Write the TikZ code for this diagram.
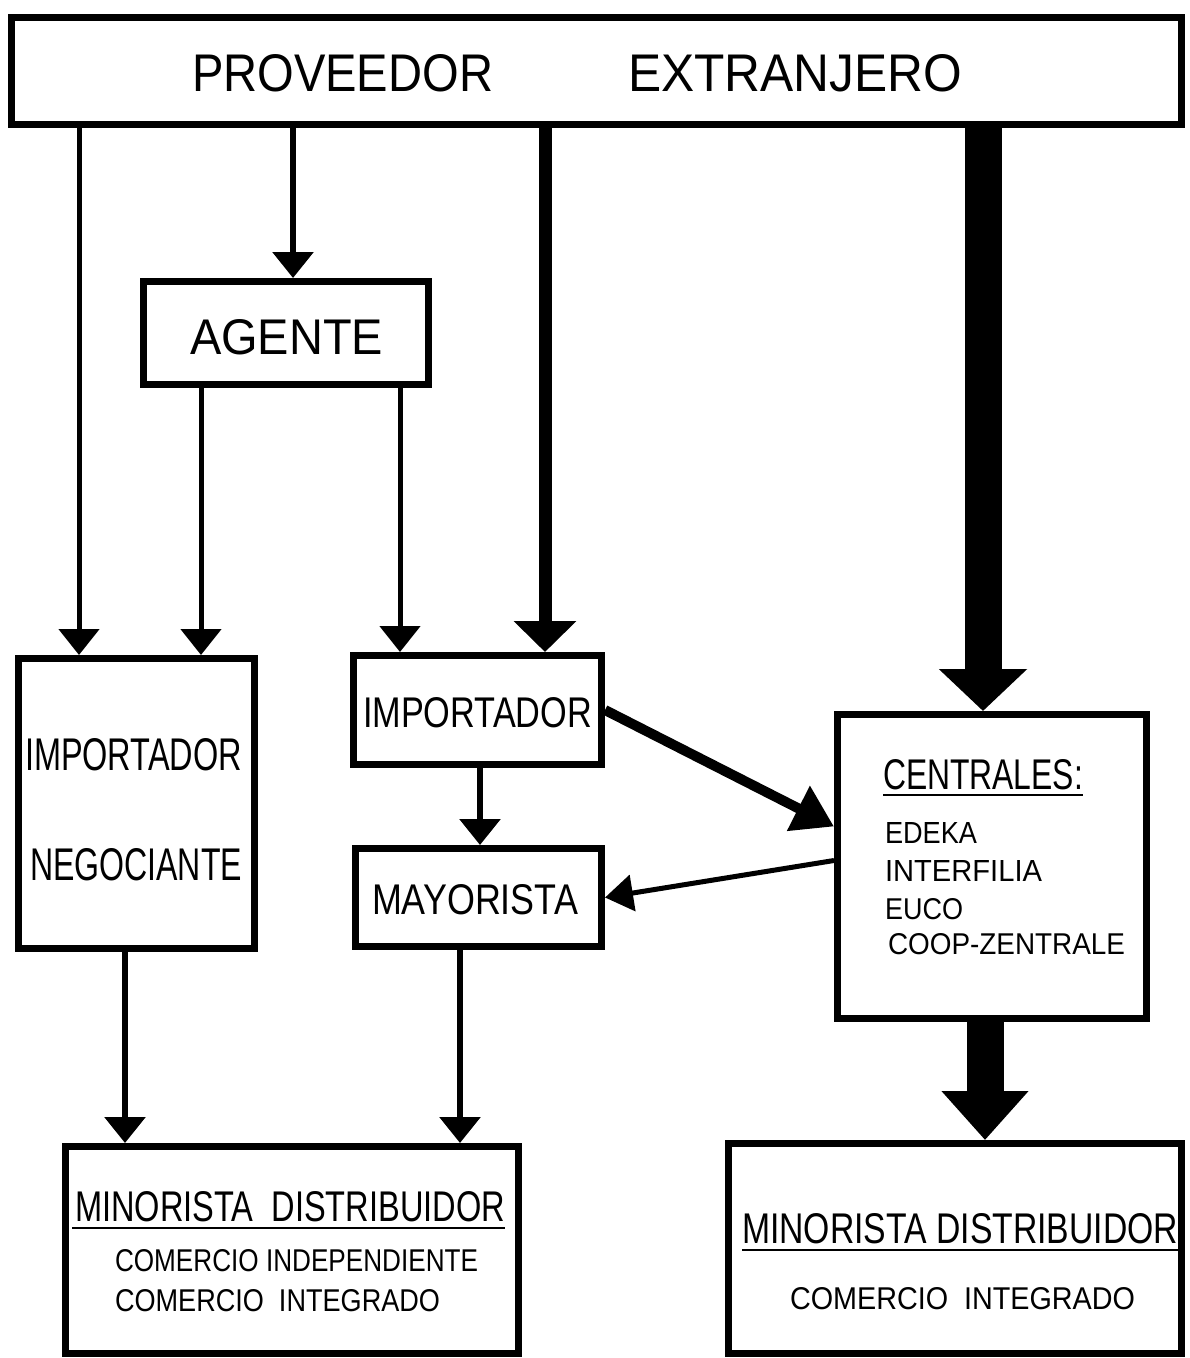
\documentclass[tikz,border=0pt]{standalone}
\usepackage{fontspec}
\setmainfont{Liberation Sans}
\usetikzlibrary{arrows.meta}
\newcommand{\fitbox}[3]{\resizebox{#1pt}{#2pt}{#3}}
\begin{document}
\begin{tikzpicture}[x=1pt,y=-1pt,
  box/.style={draw,line width=7pt,inner sep=0pt,rectangle},
  lbl/.style={inner sep=0pt,outer sep=0pt,anchor=south west},
  arrthin/.style={line width=5pt,-{Triangle[length=26pt,width=40pt]}},
  arrmid/.style={line width=13pt,-{Triangle[length=31pt,width=61pt]}},
  arrfat/.style={line width=37pt,-{Triangle[length=42pt,width=86pt]}},
  arrfatb/.style={line width=37pt,-{Triangle[length=49pt,width=84pt]}},
  arrdiag/.style={line width=10pt,-{Triangle[length=40pt,width=48pt]}},
  arrback/.style={line width=5pt,-{Triangle[length=28pt,width=36pt]}},
  uline/.style={line width=2.5pt}]
\useasboundingbox (0,0) rectangle (1190,1358);
\fill[white] (0,0) rectangle (1190,1358);

% boxes
\node[box,minimum width=1170pt,minimum height=107pt] (top) at (596.5,71) {};
\node[box,minimum width=285pt,minimum height=103pt] (agente) at (286,333) {};
\node[box,minimum width=236pt,minimum height=290pt] (impneg) at (136.5,803.5) {};
\node[box,minimum width=248pt,minimum height=109pt] (imp) at (477.5,710) {};
\node[box,minimum width=246pt,minimum height=98pt] (may) at (478.5,897.5) {};
\node[box,minimum width=309pt,minimum height=304pt] (cent) at (992,866.5) {};
\node[box,minimum width=453pt,minimum height=207pt] (minL) at (292,1250) {};
\node[box,minimum width=453pt,minimum height=210pt] (minR) at (955,1248.5) {};

% texts
\node[lbl] (tA) at (192,92) {\fitbox{301}{37}{PROVEEDOR}};
\node[lbl] (tB) at (628,92) {\fitbox{334}{37}{EXTRANJERO}};
\node[lbl] (tAg) at (190,355) {\fitbox{193}{35}{AGENTE}};
\node[lbl] (tI1) at (25,771) {\fitbox{217}{32}{IMPORTADOR}};
\node[lbl] (tN) at (30,881) {\fitbox{212}{32}{NEGOCIANTE}};
\node[lbl] (tI2) at (363,728) {\fitbox{229}{30}{IMPORTADOR}};
\node[lbl] (tM) at (372,915) {\fitbox{206}{30}{MAYORISTA}};
\node[lbl] (tC) at (883,790) {\fitbox{200}{30}{CENTRALES:}};
\node[lbl] (tE1) at (885,843) {\fitbox{92}{21}{EDEKA}};
\node[lbl] (tE2) at (885,881) {\fitbox{157}{21}{INTERFILIA}};
\node[lbl] (tE3) at (885,920) {\fitbox{78}{21}{EUCO}};
\node[lbl] (tE4) at (888,955) {\fitbox{237}{21}{COOP-ZENTRALE}};
\node[lbl] (tML) at (75,1222) {\fitbox{430}{30}{MINORISTA\ \ DISTRIBUIDOR}};
\node[lbl] (tCL1) at (115,1272) {\fitbox{363}{22}{COMERCIO INDEPENDIENTE}};
\node[lbl] (tCL2) at (115,1312) {\fitbox{325}{22}{COMERCIO\ \ INTEGRADO}};
\node[lbl] (tMR) at (742,1244) {\fitbox{436}{30}{MINORISTA DISTRIBUIDOR}};
\node[lbl] (tCR) at (790,1310) {\fitbox{345}{22}{COMERCIO\ \ INTEGRADO}};

% underlines
\draw[uline] ([yshift=-5pt]tC.south west) -- ([yshift=-5pt]tC.south east);
\draw[uline] ([shift={(-3pt,-6pt)}]tML.south west) -- ([yshift=-6pt]tML.south east);
\draw[uline] ([yshift=-6pt]tMR.south west) -- ([yshift=-6pt]tMR.south east);

% x positions of connectors
\coordinate (c1) at (79,0);
\coordinate (c2) at (293,0);
\coordinate (c3) at (545,0);
\coordinate (c4) at (983,0);
\coordinate (c5) at (201,0);
\coordinate (c6) at (400,0);
\coordinate (c7) at (480,0);
\coordinate (c8) at (125,0);
\coordinate (c9) at (460,0);
\coordinate (c10) at (985,0);

% connectors
\draw[arrthin] (top.south -| c1) -- (impneg.north -| c1);
\draw[arrthin,line width=6pt] (top.south -| c2) -- (agente.north -| c2);
\draw[arrmid] (top.south -| c3) -- (imp.north -| c3);
\draw[arrfat] (top.south -| c4) -- (cent.north -| c4);
\draw[arrthin] (agente.south -| c5) -- (impneg.north -| c5);
\draw[arrthin] (agente.south -| c6) -- (imp.north -| c6);
\draw[arrthin,line width=6pt] (imp.south -| c7) -- (may.north -| c7);
\draw[arrthin,line width=6pt] (impneg.south -| c8) -- (minL.north -| c8);
\draw[arrthin,line width=6pt] (may.south -| c9) -- (minL.north -| c9);
\draw[arrfatb] (cent.south -| c10) -- (minR.north -| c10);
\draw[arrdiag] (imp.east) -- ([yshift=40pt]cent.west);
\draw[arrback] ([yshift=6pt]cent.west) -- (may.east);
\end{tikzpicture}
\end{document}
